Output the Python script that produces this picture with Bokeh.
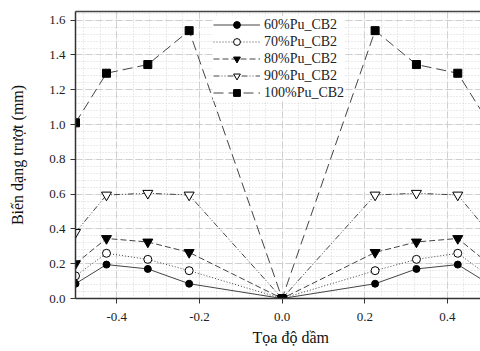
from bokeh.plotting import figure
from bokeh.models import (SingleIntervalTicker, FixedTicker, LinearAxis, Legend, LegendItem,
                          Title, Range1d, NumeralTickFormatter)
from bokeh.embed import file_html
from bokeh.resources import INLINE

x = [-0.5, -0.425, -0.325, -0.225, 0.0, 0.225, 0.325, 0.425, 0.5]
s60 = [0.085, 0.195, 0.17, 0.085, 0.0, 0.085, 0.17, 0.195, 0.085]
s70 = [0.13, 0.26, 0.225, 0.16, 0.0, 0.16, 0.225, 0.26, 0.13]
s80 = [0.2, 0.345, 0.325, 0.265, 0.0, 0.265, 0.325, 0.345, 0.2]
s90 = [0.38, 0.595, 0.605, 0.595, 0.0, 0.595, 0.605, 0.595, 0.38]
s100 = [1.01, 1.295, 1.345, 1.54, 0.0, 1.54, 1.345, 1.295, 1.01]
names = ["60%Pu_CB2", "70%Pu_CB2", "80%Pu_CB2", "90%Pu_CB2", "100%Pu_CB2"]

FONT = "Liberation Serif"

p = figure(width=480, height=351, output_backend="svg", toolbar_location=None,
           x_range=Range1d(-0.5, 0.48), y_range=Range1d(0, 1.65),
           min_border_left=75, min_border_right=0, min_border_top=11, min_border_bottom=53,
           y_axis_label="Biến dạng trượt (mm)")
p.outline_line_color = None
p.background_fill_color = "white"
p.border_fill_color = "white"

xt = SingleIntervalTicker(interval=0.2, num_minor_ticks=5)
yt = SingleIntervalTicker(interval=0.2, num_minor_ticks=5)
p.xaxis.ticker = xt
p.yaxis.ticker = yt
p.xgrid.ticker = xt
p.ygrid.ticker = yt
p.xaxis.formatter = NumeralTickFormatter(format="0.0")
p.yaxis.formatter = NumeralTickFormatter(format="0.0")

for g in (p.xgrid, p.ygrid):
    g.grid_line_color = "#cfcfcf"
    g.grid_line_dash = "7 3"
    g.grid_line_width = 1
    g.minor_grid_line_color = "#d6d6d6"
    g.minor_grid_line_dash = "1 2"
    g.minor_grid_line_width = 1

for ax in (p.xaxis, p.yaxis):
    ax.axis_line_color = "#333333"
    ax.axis_line_width = 1.5
    ax.major_tick_line_color = "#333333"
    ax.major_tick_out = 5
    ax.major_tick_in = 0
    ax.minor_tick_out = 0
    ax.minor_tick_in = 0
    ax.major_label_text_font = FONT
    ax.major_label_text_font_size = "13px"
    ax.major_label_text_color = "#222222"
    ax.axis_label_text_font = FONT
    ax.axis_label_text_font_size = "16px"
    ax.axis_label_text_font_style = "normal"
    ax.axis_label_text_color = "#111111"
p.yaxis.axis_label_standoff = 20
p.xaxis.major_label_standoff = 9
p.yaxis.major_label_standoff = 5

top = LinearAxis(ticker=FixedTicker(ticks=[]), major_tick_out=0, major_tick_in=0,
                 minor_tick_out=0, minor_tick_in=0,
                 axis_line_color="#444444", axis_line_width=1.5, major_label_standoff=0)
p.add_layout(top, "above")

p.add_layout(Title(text="Tọa độ dầm", align="left", offset=177, text_font=FONT,
                   text_font_size="16px", text_font_style="normal", text_color="#111111",
                   standoff=7), "below")

LC = "#444444"
items = []
l = p.line(x, s60, line_color=LC, line_width=1)
m = p.scatter(x, s60, marker="circle", size=7, fill_color="black", line_color="black")
items.append(LegendItem(label=names[0], renderers=[l, m]))

l = p.line(x, s70, line_color=LC, line_width=1, line_dash="1 2")
m = p.scatter(x, s70, marker="circle", size=8, fill_color="white", line_color="black")
items.append(LegendItem(label=names[1], renderers=[l, m]))

l = p.line(x, s80, line_color=LC, line_width=1, line_dash="6 3")
m = p.scatter(x, s80, marker="inverted_triangle", size=10, fill_color="black", line_color="black")
items.append(LegendItem(label=names[2], renderers=[l, m]))

l = p.line(x, s90, line_color=LC, line_width=1, line_dash="6 2 1 2 1 2")
m = p.scatter(x, s90, marker="inverted_triangle", size=10, fill_color="white", line_color="black")
items.append(LegendItem(label=names[3], renderers=[l, m]))

l = p.line(x, s100, line_color=LC, line_width=1, line_dash="10 5")
m = p.scatter(x, s100, marker="square", size=8, fill_color="black", line_color="black")
items.append(LegendItem(label=names[4], renderers=[l, m]))

legend = Legend(items=items, location=(138, 197), glyph_width=47, glyph_height=17,
                spacing=0, padding=3, label_standoff=4, margin=0,
                label_text_font=FONT, label_text_font_size="14px", label_text_color="#222222",
                border_line_color=None, background_fill_color="white", background_fill_alpha=1)
p.add_layout(legend, "center")

open("out.html", "w").write(file_html(p, INLINE))
